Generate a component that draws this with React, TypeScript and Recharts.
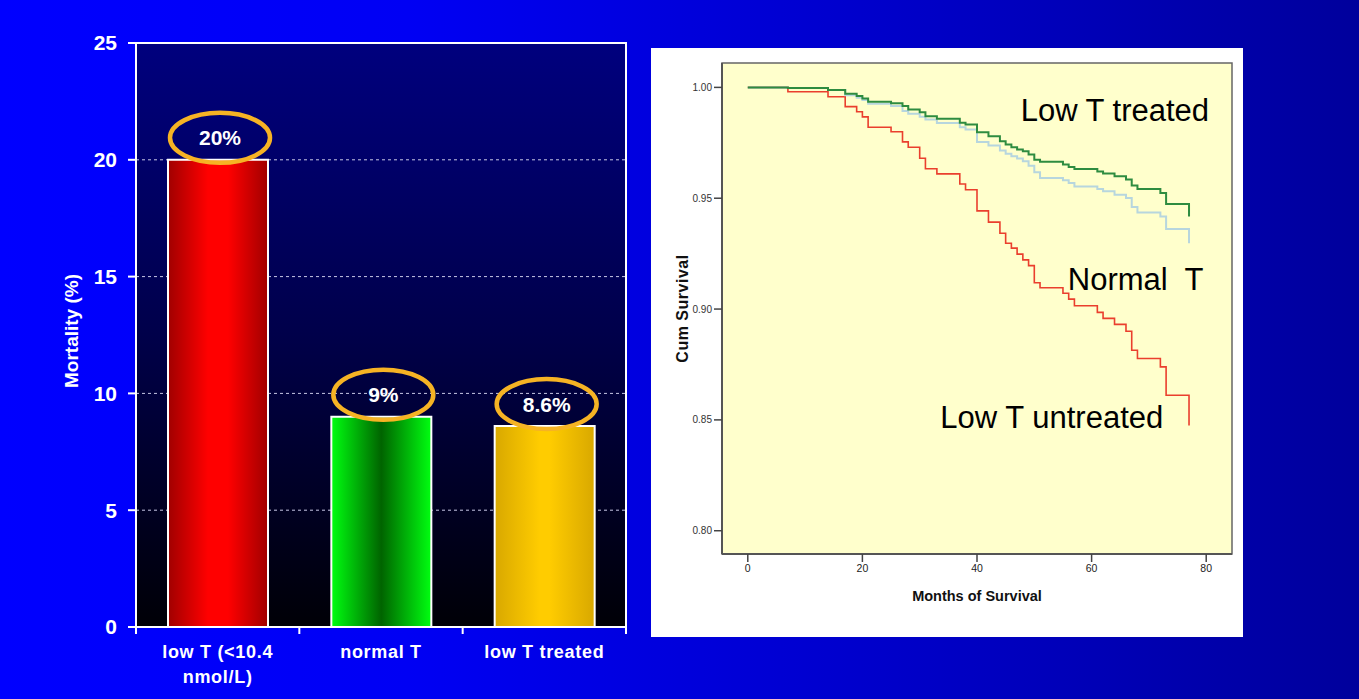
import React from "react";
import {
  Bar,
  BarChart,
  CartesianGrid,
  Cell,
  LabelList,
  Line,
  LineChart,
  ReferenceArea,
  ReferenceDot,
  ReferenceLine,
  XAxis,
  YAxis,
} from "recharts";

// left panel: mortality by group
const groups = ["low T (<10.4\nnmol/L)", "normal T", "low T treated"];
const mortality = [20, 9, 8.6];
const mortalityLabels = ["20%", "9%", "8.6%"];
const mortalityTicks = [0, 5, 10, 15, 20, 25];

// right panel: Kaplan-Meier curves
const months = [0, 7, 14, 17, 19, 20, 21, 25, 27, 28, 30, 31, 33, 37, 38, 40, 42, 44, 45, 46, 47, 48, 49, 50, 51, 55, 56, 57, 61, 62, 64, 66, 67, 68, 72, 73, 77];
const lowTUntreated = [1.0, 0.998, 0.9958, 0.9913, 0.989, 0.9867, 0.982, 0.98, 0.9754, 0.973, 0.968, 0.9633, 0.961, 0.9564, 0.9538, 0.9443, 0.9392, 0.9342, 0.9297, 0.9275, 0.9248, 0.9222, 0.9196, 0.9119, 0.9096, 0.9071, 0.9045, 0.9015, 0.8985, 0.8958, 0.8931, 0.89, 0.8814, 0.8777, 0.8739, 0.8611, 0.8475];
const lowTTreated = [1.0, 0.9997, 0.9988, 0.9971, 0.9961, 0.995, 0.9935, 0.9928, 0.9916, 0.99, 0.9888, 0.987, 0.9858, 0.984, 0.9833, 0.9798, 0.978, 0.9757, 0.9742, 0.973, 0.972, 0.9712, 0.9697, 0.9674, 0.9664, 0.9652, 0.9641, 0.9632, 0.9621, 0.9611, 0.9599, 0.9584, 0.9557, 0.9542, 0.9524, 0.9474, 0.9418];
const normalT = [1.0, 0.9997, 0.9988, 0.9965, 0.9953, 0.9943, 0.9926, 0.9916, 0.9893, 0.9881, 0.9867, 0.9855, 0.9839, 0.982, 0.981, 0.9754, 0.9738, 0.9715, 0.9701, 0.9689, 0.9679, 0.9667, 0.9647, 0.9617, 0.9591, 0.9581, 0.9569, 0.9553, 0.9542, 0.9531, 0.9516, 0.9501, 0.946, 0.9436, 0.9418, 0.9361, 0.9297];
const survivalTicks = [0.8, 0.85, 0.9, 0.95, 1.0];
const monthTicks = [0, 20, 40, 60, 80];
const curveNames = ["Low T treated", "Normal  T", "Low T untreated"];

const FONT = "'Liberation Sans', Arial, sans-serif";
const barGradients = ["gRed", "gGreen", "gGold"];

const barData = groups.map((g, i) => ({ group: g, value: mortality[i], label: mortalityLabels[i] }));
const survivalData = months.map((m, i) => ({
  month: m,
  untreated: lowTUntreated[i],
  treated: lowTTreated[i],
  normal: normalT[i],
}));

const Y_DOM: [number, number] = [0.7895, 1.011];
const X_DOM: [number, number] = [-4.5, 84.5];

function GroupTick(props: any) {
  const { x, y, payload } = props;
  const lines = String(payload.value).split("\n");
  return (
    <text x={x} y={y} textAnchor="middle" fill="#fff" fontSize={18} fontWeight="bold" fontFamily={FONT} letterSpacing={0.7}>
      {lines.map((l, i) => (
        <tspan key={i} x={x} dy={i === 0 ? 31 : 25}>
          {l}
        </tspan>
      ))}
    </text>
  );
}

function Bubble(props: any) {
  const x = Number(props.x);
  const y = Number(props.y);
  const w = Number(props.width);
  const cx = x + w / 2 + 2;
  const cy = y - 22;
  return (
    <g>
      <ellipse cx={cx} cy={cy} rx={50} ry={25} fill="none" stroke="#f6b324" strokeWidth={4.5} />
      <text x={cx} y={cy} dy={7.5} textAnchor="middle" fill="#fff" fontSize={21} fontWeight="bold" fontFamily={FONT}>
        {props.value}
      </text>
    </g>
  );
}

function MortalityChart() {
  // tick marks sit on the band edges, not under the bars
  const edges = [
    ...groups.map((g) => ({ g, pos: "start" as const })),
    { g: groups[groups.length - 1], pos: "end" as const },
  ];
  return (
    <BarChart width={660} height={699} data={barData} margin={{ top: 43, right: 34, bottom: 0, left: 0 }}>
      <defs>
        <linearGradient id="plotBg" x1="0" y1="0" x2="0" y2="1">
          <stop offset="0" stopColor="#00007e" />
          <stop offset="0.5" stopColor="#00004a" />
          <stop offset="1" stopColor="#000006" />
        </linearGradient>
        <linearGradient id="gRed" x1="0" y1="0" x2="1" y2="0">
          <stop offset="0" stopColor="#a00000" />
          <stop offset="0.4" stopColor="#ff0000" />
          <stop offset="0.6" stopColor="#ff0000" />
          <stop offset="1" stopColor="#a00000" />
        </linearGradient>
        <linearGradient id="gGreen" x1="0" y1="0" x2="1" y2="0">
          <stop offset="0" stopColor="#00ff10" />
          <stop offset="0.5" stopColor="#006400" />
          <stop offset="1" stopColor="#00ff10" />
        </linearGradient>
        <linearGradient id="gGold" x1="0" y1="0" x2="1" y2="0">
          <stop offset="0" stopColor="#d8a800" />
          <stop offset="0.45" stopColor="#ffcc00" />
          <stop offset="0.55" stopColor="#ffcc00" />
          <stop offset="1" stopColor="#d8a800" />
        </linearGradient>
      </defs>
      <CartesianGrid vertical={false} stroke="#c8c8e6" strokeDasharray="3 3" fill="url(#plotBg)" fillOpacity={1} />
      <XAxis
        dataKey="group"
        height={72}
        interval={0}
        axisLine={{ stroke: "#fff", strokeWidth: 2 }}
        tickLine={false}
        tickSize={0}
        tickMargin={0}
        tick={<GroupTick />}
      />
      <YAxis
        width={136}
        domain={[0, 25]}
        ticks={mortalityTicks}
        allowDataOverflow
        tick={{ fill: "#fff", fontSize: 21, fontWeight: "bold", fontFamily: FONT }}
        tickSize={8}
        tickMargin={11}
        axisLine={{ stroke: "#fff", strokeWidth: 2 }}
        tickLine={{ stroke: "#fff", strokeWidth: 2 }}
        label={(p: any) => {
          const vb = p.viewBox;
          const cx = vb.x + 71;
          const cy = vb.y + vb.height / 2 - 4;
          return (
            <text
              transform={`translate(${cx} ${cy}) rotate(-90)`}
              textAnchor="middle"
              dominantBaseline="central"
              fill="#fff"
              fontSize={19}
              fontWeight="bold"
              fontFamily={FONT}
            >
              Mortality (%)
            </text>
          );
        }}
      />
      <ReferenceArea y1={0} y2={25} fill="none" stroke="#fff" strokeWidth={2} ifOverflow="visible" />
      {edges.map((e, i) => (
        <ReferenceLine
          key={i}
          segment={[
            { x: e.g, y: 0 },
            { x: e.g, y: -0.3 },
          ]}
          position={e.pos}
          stroke="#fff"
          strokeWidth={2}
          ifOverflow="visible"
        />
      ))}
      <Bar dataKey="value" barSize={100} stroke="#fff" strokeWidth={2} isAnimationActive={false}>
        {barData.map((d, i) => (
          <Cell key={d.group} fill={`url(#${barGradients[i]})`} />
        ))}
        <LabelList dataKey="label" content={<Bubble />} />
      </Bar>
    </BarChart>
  );
}

const annotationAt = [
  { month: 80.5, surv: 0.9848 },
  { month: 79.5, surv: 0.9086 },
  { month: 72.5, surv: 0.8462 },
];

function SurvivalChart() {
  return (
    <LineChart width={592} height={589} data={survivalData} margin={{ top: 15, right: 11, bottom: 0, left: 0 }}>
      <CartesianGrid horizontal={false} vertical={false} fill="#ffffcc" fillOpacity={1} />
      <XAxis
        dataKey="month"
        type="number"
        domain={X_DOM}
        ticks={monthTicks}
        allowDataOverflow
        height={83}
        tick={{ fill: "#222", fontSize: 10.5, fontFamily: FONT }}
        tickSize={8}
        tickMargin={3}
        axisLine={{ stroke: "#555", strokeWidth: 2 }}
        tickLine={{ stroke: "#444", strokeWidth: 1.5 }}
        label={(p: any) => {
          const vb = p.viewBox;
          return (
            <text x={vb.x + vb.width / 2} y={vb.y + 47} textAnchor="middle" fill="#111" fontSize={14.5} fontWeight="bold" fontFamily={FONT}>
              Months of Survival
            </text>
          );
        }}
      />
      <YAxis
        type="number"
        domain={Y_DOM}
        ticks={survivalTicks}
        allowDataOverflow
        width={71}
        tickFormatter={(v: number) => v.toFixed(2)}
        tick={{ fill: "#333", fontSize: 10, fontFamily: FONT }}
        tickSize={8}
        tickMargin={2}
        axisLine={{ stroke: "#555", strokeWidth: 2 }}
        tickLine={{ stroke: "#444", strokeWidth: 1.5 }}
        label={(p: any) => {
          const vb = p.viewBox;
          const cx = vb.x + 31;
          const cy = vb.y + vb.height / 2;
          return (
            <text
              transform={`translate(${cx} ${cy}) rotate(-90)`}
              textAnchor="middle"
              dominantBaseline="central"
              fill="#111"
              fontSize={16}
              fontWeight="bold"
              fontFamily={FONT}
              letterSpacing={0.5}
            >
              Cum Survival
            </text>
          );
        }}
      />
      <ReferenceArea x1={X_DOM[0]} x2={X_DOM[1]} y1={Y_DOM[0]} y2={Y_DOM[1]} fill="none" stroke="#666" strokeWidth={1.5} ifOverflow="visible" />
      <Line type="stepAfter" dataKey="untreated" stroke="#ea3f2d" strokeWidth={1.6} dot={false} activeDot={false} isAnimationActive={false} />
      <Line type="stepAfter" dataKey="normal" stroke="#b7d6de" strokeWidth={2} dot={false} activeDot={false} isAnimationActive={false} />
      <Line type="stepAfter" dataKey="treated" stroke="#2e8c40" strokeWidth={2} dot={false} activeDot={false} isAnimationActive={false} />
      {curveNames.map((name, i) => (
        <ReferenceDot
          key={name}
          x={annotationAt[i].month}
          y={annotationAt[i].surv}
          r={0}
          stroke="none"
          fill="none"
          label={(p: any) => {
            const vb = p.viewBox;
            return (
              <text x={vb.x} y={vb.y} textAnchor="end" fill="#000" fontSize={31} fontFamily={FONT} style={{ whiteSpace: "pre" }}>
                {name}
              </text>
            );
          }}
        />
      ))}
    </LineChart>
  );
}

export default function App() {
  return (
    <div
      style={{
        position: "absolute",
        left: 0,
        top: 0,
        width: 1359,
        height: 699,
        overflow: "hidden",
        background: "linear-gradient(90deg, #0000ff 0%, #0000f4 30%, #0000c4 70%, #00009c 100%)",
        fontFamily: FONT,
      }}
    >
      <div style={{ position: "absolute", left: 0, top: 0 }}>
        <MortalityChart />
      </div>
      <div style={{ position: "absolute", left: 651, top: 48, width: 592, height: 589, background: "#fff" }}>
        <SurvivalChart />
      </div>
    </div>
  );
}
